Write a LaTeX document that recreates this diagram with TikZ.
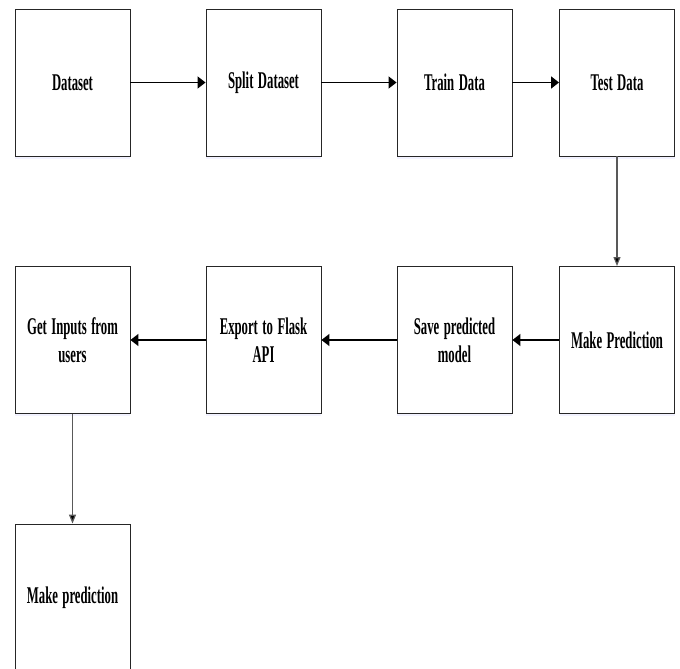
\documentclass[tikz,border=0pt]{standalone}
\usepackage{fontspec}
\setmainfont[FakeStretch=0.53]{Liberation Serif}
\usetikzlibrary{positioning,arrows.meta,shadows}

\begin{document}
\begin{tikzpicture}[x=1pt,y=1pt,node distance=191pt,on grid,
	box/.style={draw=black!85,line width=0.9pt,fill=white,minimum width=115pt,minimum height=147pt,
		align=center,font=\bfseries\fontsize{24}{28}\selectfont,
		execute at begin node={\spaceskip=4.5pt\relax},
		drop shadow={fill=blue!10,shadow xshift=0pt,shadow yshift=-2.5pt}},
	harrow/.style={-{Triangle[length=8pt,width=12pt]},line width=1.6pt},
	varrow/.style={-{Triangle[length=9pt,width=7pt]},line width=1.2pt,draw=black!65}]
			\useasboundingbox (0,0) rectangle (680,-669);
			\node[box](ds) at (72.5,-82.5) {Dataset};
			\node[box](split)[right=of ds] {Split Dataset};
			\node[box](train)[right=of split] {Train Data};
			\node[box](test)[right=162.5pt of train] {Test Data};
			\node[box](pred)[below=257.5pt of test] {Make Prediction};
			\node[box](save)[below=257.5pt of train] {Save predicted\\model};
			\node[box](flask)[below=257.5pt of split] {Export to Flask\\API};
			\node[box](inputs)[below=257.5pt of ds] {Get Inputs from\\users};
			\node[box](final)[below=257.5pt of inputs] {Make prediction};
			\path[harrow]
			(ds) edge (split)
			(split) edge (train)
			(train) edge (test)
			(pred) edge (save)
			(save) edge (flask)
			(flask) edge (inputs);
			\path[varrow]
			(test) edge (pred)
			(inputs) edge (final);
			\end{tikzpicture}
\end{document}
